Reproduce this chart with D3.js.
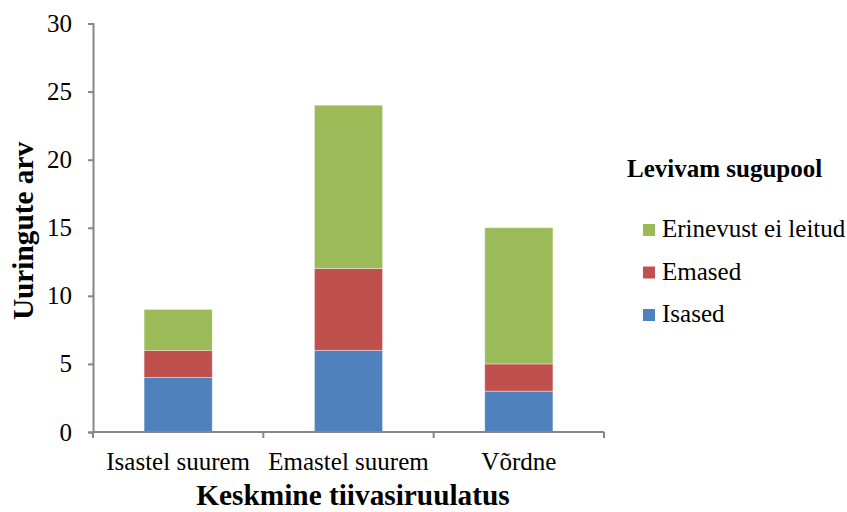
<!DOCTYPE html>
<html>
<head>
<meta charset="utf-8">
<script src="https://cdn.jsdelivr.net/npm/d3@7"></script>
<style>
  html, body { margin: 0; padding: 0; background: #fff; }
  svg text { font-family: "Liberation Serif", "Times New Roman", serif; fill: #000; }
</style>
</head>
<body>
<svg id="chart" width="847" height="512"></svg>
<script>
// Categories on the x axis
const categories = ["Isastel suurem", "Emastel suurem", "Võrdne"];
// Series, stacked bottom to top
const seriesNames = ["Isased", "Emased", "Erinevust ei leitud"];
const isased = [4, 6, 3];
const emased = [2, 6, 2];
const erinevustEiLeitud = [3, 12, 10];
const seriesColors = ["#4F81BD", "#C0504D", "#9BBB59"];
const yTicks = [0, 5, 10, 15, 20, 25, 30];

const rows = categories.map((c, i) => ({
  category: c,
  "Isased": isased[i],
  "Emased": emased[i],
  "Erinevust ei leitud": erinevustEiLeitud[i]
}));

const svg = d3.select("#chart");
const plotLeft = 93, plotRight = 604, plotTop = 23.5, plotBottom = 432;
const serif = "'Liberation Serif', 'Times New Roman', serif";

const x = d3.scaleBand().domain(categories).range([plotLeft, plotRight]).paddingInner(0.6).paddingOuter(0.3);
const y = d3.scaleLinear().domain([0, 30]).range([plotBottom, plotTop]);
const color = d3.scaleOrdinal().domain(seriesNames).range(seriesColors);

const stacked = d3.stack().keys(seriesNames)(rows);

// Bars
svg.append("g").selectAll("g")
  .data(stacked)
  .join("g")
  .attr("fill", d => color(d.key))
  .selectAll("rect")
  .data(d => d)
  .join("rect")
  .attr("x", d => x(d.data.category))
  .attr("width", x.bandwidth())
  .attr("y", d => y(d[1]))
  .attr("height", d => y(d[0]) - y(d[1]))
  .attr("stroke", "rgba(255,255,255,0.45)")
  .attr("stroke-width", 0.8);

const axisColor = "#868686";

// Y axis
const yAxis = svg.append("g")
  .attr("transform", `translate(${plotLeft},0)`)
  .call(d3.axisLeft(y).tickValues(yTicks).tickSize(5).tickPadding(16));
yAxis.select(".domain").attr("stroke", axisColor).attr("stroke-width", 2);
yAxis.selectAll(".tick line").attr("stroke", axisColor).attr("stroke-width", 2);
yAxis.selectAll(".tick text")
  .style("font-family", serif)
  .style("font-size", "25px")
  .attr("fill", "#000");

// X axis: line with tick marks at category boundaries
const xg = svg.append("g");
xg.append("line")
  .attr("x1", plotLeft).attr("x2", plotRight)
  .attr("y1", plotBottom).attr("y2", plotBottom)
  .attr("stroke", axisColor).attr("stroke-width", 2);
const boundaries = d3.range(categories.length + 1).map(i => plotLeft + i * (plotRight - plotLeft) / categories.length);
xg.selectAll("line.tick")
  .data(boundaries)
  .join("line")
  .attr("class", "tick")
  .attr("x1", d => d).attr("x2", d => d)
  .attr("y1", plotBottom).attr("y2", plotBottom + 6)
  .attr("stroke", axisColor).attr("stroke-width", 2);
xg.selectAll("text")
  .data(categories)
  .join("text")
  .attr("x", d => x(d) + x.bandwidth() / 2)
  .attr("y", 470)
  .attr("text-anchor", "middle")
  .style("font-family", serif)
  .style("font-size", "25px")
  .text(d => d);

// Axis titles
svg.append("text")
  .attr("x", 353).attr("y", 505)
  .attr("text-anchor", "middle")
  .style("font-family", serif)
  .style("font-size", "29.3px")
  .attr("font-weight", "bold")
  .text("Keskmine tiivasiruulatus");

svg.append("text")
  .attr("transform", "translate(33,231) rotate(-90)")
  .attr("text-anchor", "middle")
  .style("font-family", serif)
  .style("font-size", "29.3px")
  .attr("font-weight", "bold")
  .text("Uuringute arv");

// Legend
const legend = svg.append("g");
legend.append("text")
  .attr("x", 627).attr("y", 177)
  .style("font-family", serif)
  .style("font-size", "25px")
  .attr("font-weight", "bold")
  .text("Levivam sugupool");

const legendOrder = seriesNames.slice().reverse();
const item = legend.selectAll("g.item")
  .data(legendOrder)
  .join("g")
  .attr("class", "item")
  .attr("transform", (d, i) => `translate(0,${237 + i * 42.5})`);
item.append("rect")
  .attr("x", 643).attr("y", -13)
  .attr("width", 12).attr("height", 12)
  .attr("fill", d => color(d));
item.append("text")
  .attr("x", 662).attr("y", 0)
  .style("font-family", serif)
  .style("font-size", "25px")
  .text(d => d);
</script>
</body>
</html>
